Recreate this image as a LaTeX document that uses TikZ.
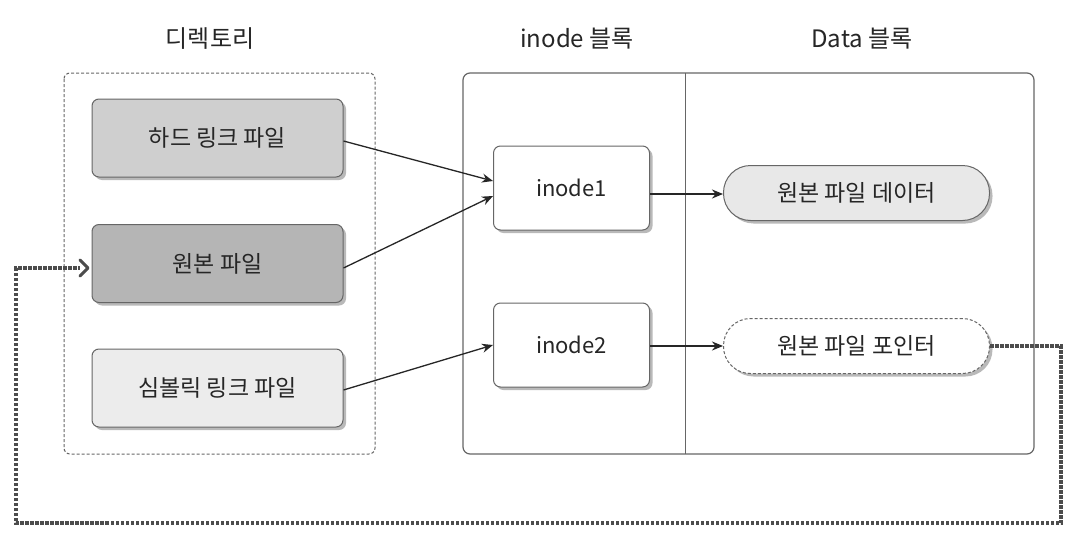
\documentclass[tikz,border=0pt]{standalone}
\usepackage{fontspec}
\setmainfont{Noto Sans CJK KR}
\usetikzlibrary{shadows,arrows.meta}
\definecolor{txt}{gray}{0.15}
\definecolor{edge}{gray}{0.4}
\tikzset{
  every node/.style={text=txt},
  fbox/.style={draw=edge, line width=1pt, rounded corners=7pt, minimum width=251pt, minimum height=78pt,
    font=\fontsize{23}{26}\selectfont, drop shadow={shadow xshift=3pt, shadow yshift=-3pt, fill=gray!55, opacity=1}},
  ibox/.style={draw=edge, line width=1pt, rounded corners=7pt, fill=white, minimum width=156pt, minimum height=84pt,
    font=\fontsize{22}{26}\selectfont, drop shadow={shadow xshift=3pt, shadow yshift=-3pt, fill=gray!55, opacity=1}},
  pill/.style={draw=edge, line width=1pt, rounded corners=27pt, minimum width=266pt, minimum height=55pt,
    font=\fontsize{23}{26}\selectfont, drop shadow={shadow xshift=3pt, shadow yshift=-3pt, fill=gray!55, opacity=1}},
  hdr/.style={font=\fontsize{24}{28}\selectfont},
  conn/.style={draw=black!85, line width=1.3pt, -{Stealth[length=11pt,width=9pt]}},
  conn2/.style={draw=black!85, line width=2pt, -{Stealth[length=11pt,width=9pt]}},
  ptr/.style={draw=gray!60!black, line width=4pt, dash pattern=on 3.5pt off 1.5pt},
}
\begin{document}
\begin{tikzpicture}[x=1pt,y=-1pt]
\useasboundingbox[fill=white] (0,0) rectangle (1076,538);
% headers
\node[hdr] (h1) at (210,39) {디렉토리};
\node[hdr] (h2) at (577,39) {inode 블록};
\node[hdr] (h3) at (862,39) {Data 블록};
% frames
\draw[draw=edge, line width=1pt, dashed, dash pattern=on 3pt off 2pt, rounded corners=6pt] (64,73) rectangle (375,454);
\draw[draw=edge, line width=1.2pt, rounded corners=7pt] (463,73) rectangle (1034,454);
\draw[draw=edge, line width=1pt] (685,73) -- (685,454);
% directory entries
\node[fbox, fill=gray!38] (hard) at (217.5,138) {하드 링크 파일};
\node[fbox, fill=gray!58] (orig) at (217.5,263.5) {원본 파일};
\node[fbox, fill=gray!15] (sym) at (217.5,388) {심볼릭 링크 파일};
% inodes
\node[ibox] (in1) at (571.5,188) {inode1};
\node[ibox] (in2) at (571.5,345) {inode2};
% data
\node[pill, fill=gray!18] (data) at (856.5,193) {원본 파일 데이터};
\node[pill, fill=white, dashed, dash pattern=on 3pt off 2pt] (pt) at (856.5,346) {원본 파일 포인터};
% connectors
\draw[conn] (hard.east |- 0,141) -- (in1.west |- 0,181);
\draw[conn] (orig.east |- 0,268) -- (in1.west |- 0,196);
\draw[conn] (sym.east |- 0,390) -- (in2.west |- 0,345);
\draw[conn2] (in1.east |- 0,194) -- (data.west |- 0,194);
\draw[conn2] (in2.east |- 0,346) -- (pt.west |- 0,346);
% pointer loop
\coordinate (c1) at (1061,346);
\coordinate (c2) at (1061,523);
\coordinate (c3) at (16,523);
\coordinate (c4) at (16,268);
\coordinate (c5) at (80,268);
\draw[ptr] (pt.east) -- (c1) -- (c2) -- (c3) -- (c4) -- (c5);
\draw[draw=gray!60!black, line width=3pt, line cap=round, line join=round] (80,260) -- (88,268) -- (80,276);
\end{tikzpicture}
\end{document}
